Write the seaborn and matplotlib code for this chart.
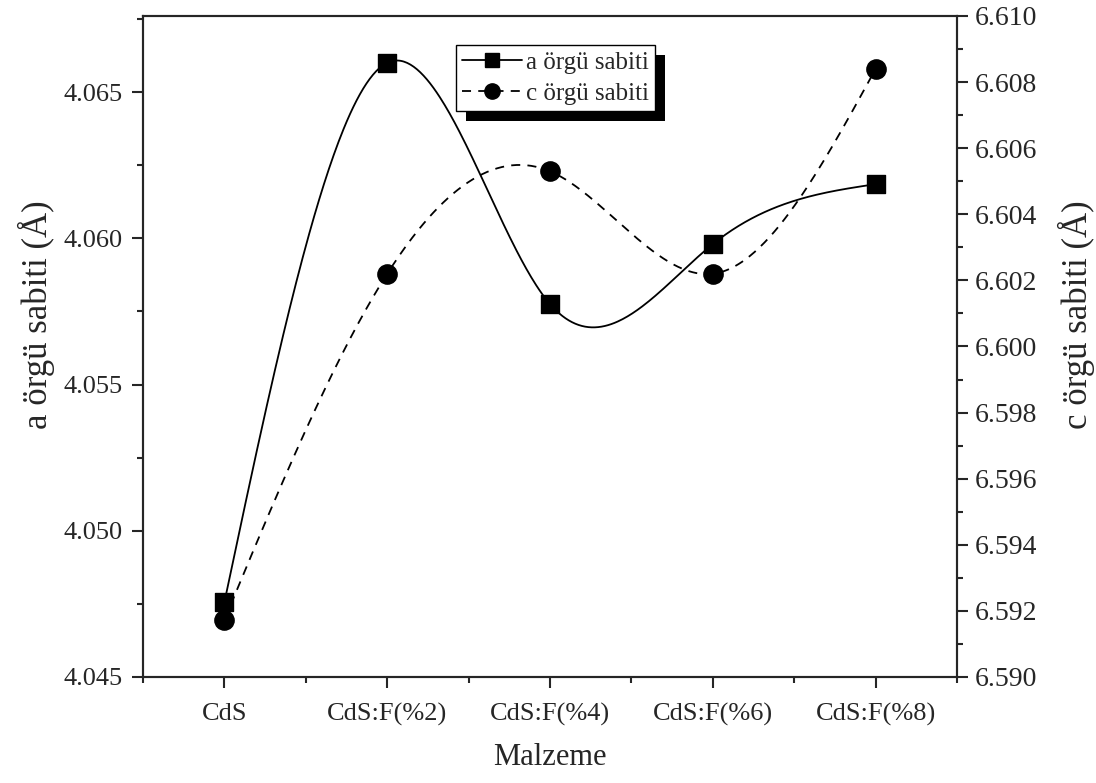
import numpy as np
import pandas as pd
import matplotlib
matplotlib.use("Agg")
import matplotlib.pyplot as plt
import matplotlib.patheffects as pe
from matplotlib.lines import Line2D
from matplotlib.ticker import MultipleLocator, FixedLocator, FormatStrFormatter
import seaborn as sns

# data
categories = ["CdS", "CdS:F(%2)", "CdS:F(%4)", "CdS:F(%6)", "CdS:F(%8)"]
a_values = [4.04756, 4.06600, 4.05775, 4.05980, 4.06185]
c_values = [6.59173, 6.60220, 6.60530, 6.60220, 6.60840]


def natural_spline(x, y, xs):
    # cubic spline through the points (natural end conditions)
    x = np.asarray(x, float)
    y = np.asarray(y, float)
    n = len(x)
    h = np.diff(x)
    A = np.zeros((n, n))
    b = np.zeros(n)
    A[0, 0] = A[-1, -1] = 1
    for i in range(1, n - 1):
        A[i, i - 1] = h[i - 1]
        A[i, i] = 2 * (h[i - 1] + h[i])
        A[i, i + 1] = h[i]
        b[i] = 6 * ((y[i + 1] - y[i]) / h[i] - (y[i] - y[i - 1]) / h[i - 1])
    M = np.linalg.solve(A, b)
    idx = np.clip(np.searchsorted(x, xs) - 1, 0, n - 2)
    x0, x1 = x[idx], x[idx + 1]
    hh = x1 - x0
    return (M[idx] * (x1 - xs) ** 3 / (6 * hh) + M[idx + 1] * (xs - x0) ** 3 / (6 * hh)
            + (y[idx] / hh - M[idx] * hh / 6) * (x1 - xs)
            + (y[idx + 1] / hh - M[idx + 1] * hh / 6) * (xs - x0))


sns.set_theme(style="ticks")
plt.rcParams["font.family"] = ["Liberation Serif", "DejaVu Serif"]
plt.rcParams["axes.linewidth"] = 1.5

pos = np.arange(len(categories))
fine = np.linspace(0, len(categories) - 1, 400)
df = pd.DataFrame({"pos": pos, "a": a_values, "c": c_values})
curve = pd.DataFrame({"pos": fine,
                      "a": natural_spline(pos, a_values, fine),
                      "c": natural_spline(pos, c_values, fine)})

fig = plt.figure(figsize=(10.96, 7.83), dpi=100)
ax = fig.add_axes([0.1305, 0.1354, 0.8732 - 0.1305, 0.9796 - 0.1354])
ax2 = ax.twinx()

sns.lineplot(data=curve, x="pos", y="a", ax=ax, color="black", lw=1.3, linestyle="-")
sns.scatterplot(data=df, x="pos", y="a", ax=ax, marker="s", s=150, color="black",
                edgecolor="black", zorder=5)
sns.lineplot(data=curve, x="pos", y="c", ax=ax2, color="black", lw=1.3, linestyle=(0, (5, 4)))
sns.scatterplot(data=df, x="pos", y="c", ax=ax2, marker="o", s=190, color="black",
                edgecolor="black", zorder=5)

ax.set_xlim(-0.5, len(categories) - 0.5)
ax.set_ylim(4.045, 4.0676)
ax2.set_ylim(6.590, 6.610)

ax.set_xticks(pos)
ax.set_xticklabels(categories)
ax.xaxis.set_minor_locator(FixedLocator(np.arange(-0.5, len(categories), 1.0)))
ax.yaxis.set_major_locator(MultipleLocator(0.005))
ax.yaxis.set_minor_locator(MultipleLocator(0.0025))
ax2.yaxis.set_major_locator(MultipleLocator(0.002))
ax2.yaxis.set_minor_locator(MultipleLocator(0.001))
ax.yaxis.set_major_formatter(FormatStrFormatter("%.3f"))
ax2.yaxis.set_major_formatter(FormatStrFormatter("%.3f"))

ax.tick_params(axis="both", which="major", direction="out", length=8, width=1.5,
               labelsize=19, pad=7, top=False, right=False)
ax.tick_params(axis="x", which="major", pad=11)
ax.tick_params(axis="both", which="minor", direction="out", length=4.5, width=1.5,
               top=False, right=False)
ax2.tick_params(axis="y", which="major", direction="out", length=8, width=1.5,
                labelsize=20, pad=5)
ax2.tick_params(axis="y", which="minor", direction="out", length=4.5, width=1.5)

for s in ax2.spines.values():
    s.set_linewidth(1.5)

ax.set_xlabel("Malzeme", fontsize=22, labelpad=12)
ax.set_ylabel("a örgü sabiti (Å)", fontsize=25)
ax2.set_ylabel("c örgü sabiti (Å)", fontsize=25)
ax.yaxis.set_label_coords(-0.108, 0.548)
ax2.yaxis.set_label_coords(1.124, 0.548)

handles = [Line2D([], [], color="black", lw=1.3, marker="s", markersize=10, linestyle="-"),
           Line2D([], [], color="black", lw=1.3, marker="o", markersize=11, linestyle=(0, (5, 4)))]
leg = ax2.legend(handles, ["a örgü sabiti", "c örgü sabiti"], loc="upper left",
                 bbox_to_anchor=(0.3845, 0.956), fontsize=18, frameon=True, fancybox=False,
                 edgecolor="black", framealpha=1, facecolor="white",
                 handlelength=2.4, handletextpad=0.15, borderpad=0.25,
                 labelspacing=0.35, borderaxespad=0)
leg.get_frame().set_linewidth(1.0)
leg.get_frame().set_path_effects([pe.SimplePatchShadow(offset=(7, -7), shadow_rgbFace="black", alpha=1),
                                  pe.Normal()])

fig.savefig("out.png", dpi=100)
